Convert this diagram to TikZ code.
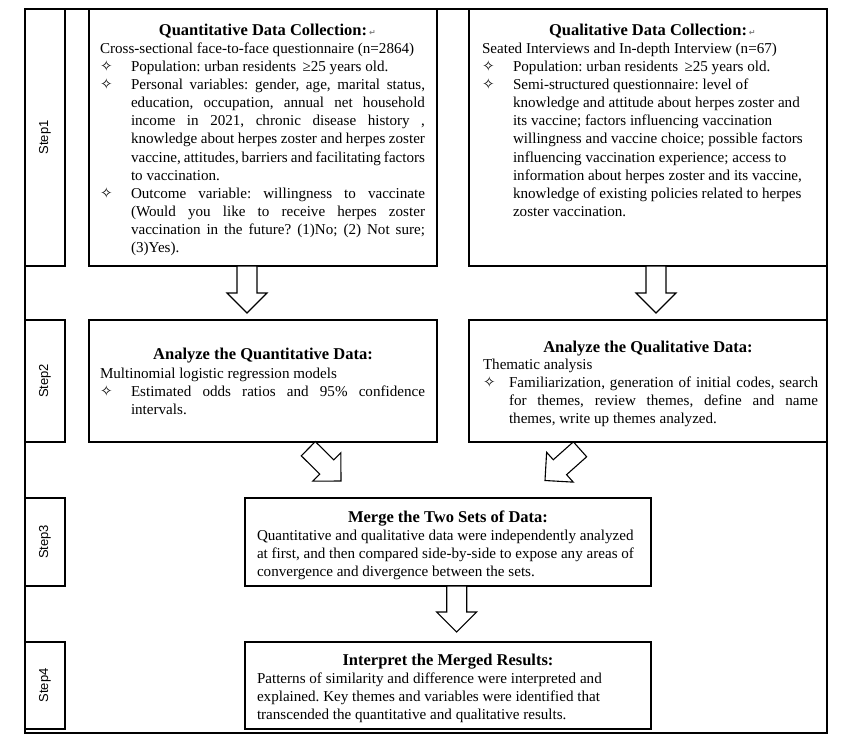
\documentclass[tikz,border=0pt]{standalone}
\usepackage{fontspec}
\setmainfont{Liberation Serif}
\newfontfamily\symfont{DejaVu Sans}
\newfontfamily\stepfont{Liberation Sans}
\usetikzlibrary{calc}
\frenchspacing

\newcommand\bulglyph{{\symfont\fontsize{15}{15}\selectfont ✧}}
\newcommand\BL[2]{\hbox{\hbox to #1{\bulglyph\hss}#2}}
\newcommand\BJ[3]{\hbox{\hbox to #1{\bulglyph\hss}\hbox to #2{#3}}}
\newcommand\CL[2]{\hbox{\hskip#1\relax #2}}
\newcommand\CJ[3]{\hbox{\hskip#1\relax\hbox to #2{#3}}}
\newcommand\retmark{\rlap{\hskip2pt{\symfont\fontsize{8}{8}\selectfont\color{gray}↵}}}
\newcommand\blockarrow[2]{%
  \path ($(#2)!20pt!(#1)$) coordinate (hb);
  \draw[barrow] ($(#1)!10pt!90:(#2)$) -- ($(hb)!10pt!90:(#2)$) -- ($(hb)!20pt!90:(#2)$) -- (#2)
    -- ($(hb)!20pt!-90:(#2)$) -- ($(hb)!10pt!-90:(#2)$) -- ($(#1)!10pt!-90:(#2)$) -- cycle;}

\begin{document}
\begin{tikzpicture}[x=1pt,y=-1pt,
  box/.style={draw=black,line width=1.6pt,fill=white,inner sep=0pt,outer sep=0pt},
  frame/.style={draw=black,line width=2pt,inner sep=0pt,outer sep=0pt},
  barrow/.style={draw=black,line width=1.1pt,fill=white,line join=miter},
  txt/.style={inner sep=0pt,outer sep=0pt,anchor=base west,font=\fontsize{15.1}{18.1}\selectfont},
  ttl/.style={inner sep=0pt,outer sep=0pt,anchor=base,font=\fontsize{16.5}{18}\selectfont\bfseries},
  steptxt/.style={inner sep=0pt,rotate=90,font=\stepfont\fontsize{13}{13}\selectfont}]
\fill[white] (0,0) rectangle (848,741);
\useasboundingbox (0,0) rectangle (848,741);

\node[frame,minimum width=802pt,minimum height=724pt] (outer) at (426,371) {};

\node[box,minimum width=40pt,minimum height=257pt] (step1) at (45,137.5) {};
\node[box,minimum width=348pt,minimum height=257pt] (quant1) at (263,137.5) {};
\node[box,minimum width=358pt,minimum height=257pt] (qual1) at (648,137.5) {};
\node[box,minimum width=40pt,minimum height=122pt] (step2) at (45,381) {};
\node[box,minimum width=348pt,minimum height=122pt] (quant2) at (263,381) {};
\node[box,minimum width=358pt,minimum height=122pt] (qual2) at (648,381) {};
\node[box,minimum width=40pt,minimum height=88pt] (step3) at (45,542) {};
\node[box,minimum width=406pt,minimum height=88pt] (merge) at (448,542) {};
\node[box,minimum width=40pt,minimum height=87pt] (step4) at (45,685.5) {};
\node[box,minimum width=406pt,minimum height=87pt] (interp) at (448,685.5) {};

\draw[line width=2pt] (outer.north west) rectangle (outer.south east);

\node[steptxt] (l1) at (step1.center) {Step1};
\node[steptxt] (l2) at (step2.center) {Step2};
\node[steptxt] (l3) at (step3.center) {Step3};
\node[steptxt] (l4) at (step4.center) {Step4};

\node[ttl] (h1) at (263,35.5) {Quantitative Data Collection:\retmark};
\node[ttl] (h2) at (648,35.5) {Qualitative Data Collection:\retmark};
\node[ttl] (h3) at (263,359.5) {Analyze the Quantitative Data:};
\node[ttl] (h4) at (648,352.5) {Analyze the Qualitative Data:};
\node[ttl] (h5) at (448,522.5) {Merge the Two Sets of Data:};
\node[ttl] (h6) at (448,665.5) {Interpret the Merged Results:};

\node[txt] (b1) at (100,53.5) {\vtop{%
\hbox{Cross-sectional face-to-face questionnaire (n=2864)}
\BL{31pt}{Population: urban residents \,≥25 years old.}
\BJ{31pt}{294pt}{Personal variables: gender, age, marital status,}
\CJ{31pt}{294pt}{education, occupation, annual net household}
\CJ{31pt}{294pt}{income in 2021, chronic disease history ,}
\CJ{31pt}{294pt}{knowledge about herpes zoster and herpes zoster}
\CJ{31pt}{294pt}{vaccine, attitudes, barriers and facilitating factors}
\CL{31pt}{to vaccination.}
\BJ{31pt}{294pt}{Outcome variable: willingness to vaccinate}
\CJ{31pt}{294pt}{(Would you like to receive herpes zoster}
\CJ{31pt}{294pt}{vaccination in the future? (1)No; (2) Not sure;}
\CL{31pt}{(3)Yes).}}};

\node[txt] (b2) at (482,53.5) {\vtop{%
\hbox{Seated Interviews and In-depth Interview (n=67)}
\BL{31pt}{Population: urban residents \,≥25 years old.}
\BL{31pt}{Semi-structured questionnaire: level of}
\CL{31pt}{knowledge and attitude about herpes zoster and}
\CL{31pt}{its vaccine; factors influencing vaccination}
\CL{31pt}{willingness and vaccine choice; possible factors}
\CL{31pt}{influencing vaccination experience; access to}
\CL{31pt}{information about herpes zoster and its vaccine,}
\CL{31pt}{knowledge of existing policies related to herpes}
\CL{31pt}{zoster vaccination.}}};

\node[txt] (b3) at (100,378) {\vtop{%
\hbox{Multinomial logistic regression models}
\BJ{31pt}{294pt}{Estimated odds ratios and 95\% confidence}
\CL{31pt}{intervals.}}};

\node[txt] (b4) at (483,369.5) {\vtop{%
\hbox{Thematic analysis}
\BJ{26pt}{309pt}{Familiarization, generation of initial codes, search}
\CJ{26pt}{309pt}{for themes, review themes, define and name}
\CL{26pt}{themes, write up themes analyzed.}}};

\node[txt] (b5) at (257,540) {\vtop{\baselineskip=18.4pt
\hbox{Quantitative and qualitative data were independently analyzed}
\hbox{at first, and then compared side-by-side to expose any areas of}
\hbox{convergence and divergence between the sets.}}};

\node[txt] (b6) at (257,683) {\vtop{\baselineskip=18pt
\hbox{Patterns of similarity and difference were interpreted and}
\hbox{explained. Key themes and variables were identified that}
\hbox{transcended the quantitative and qualitative results.}}};

\coordinate (a1s) at ($(quant1.south)+(-16,0)$);
\coordinate (a1e) at ($(quant2.north)+(-16,-7)$);
\coordinate (a2s) at ($(qual1.south)+(8,0)$);
\coordinate (a2e) at ($(qual2.north)+(8,-7)$);
\coordinate (a3s) at ($(quant2.south)+(45.3,6.7)$);
\coordinate (a3e) at ($(merge.north)+(-107,-17)$);
\coordinate (a4s) at ($(qual2.south)+(-68,7.3)$);
\coordinate (a4e) at ($(merge.north)+(97,-17.5)$);
\coordinate (a5s) at ($(merge.south)+(8.7,0)$);
\coordinate (a5e) at ($(interp.north)+(8.7,-10)$);

\blockarrow{a1s}{a1e}
\blockarrow{a2s}{a2e}
\blockarrow{a3s}{a3e}
\blockarrow{a4s}{a4e}
\blockarrow{a5s}{a5e}
\end{tikzpicture}
\end{document}
